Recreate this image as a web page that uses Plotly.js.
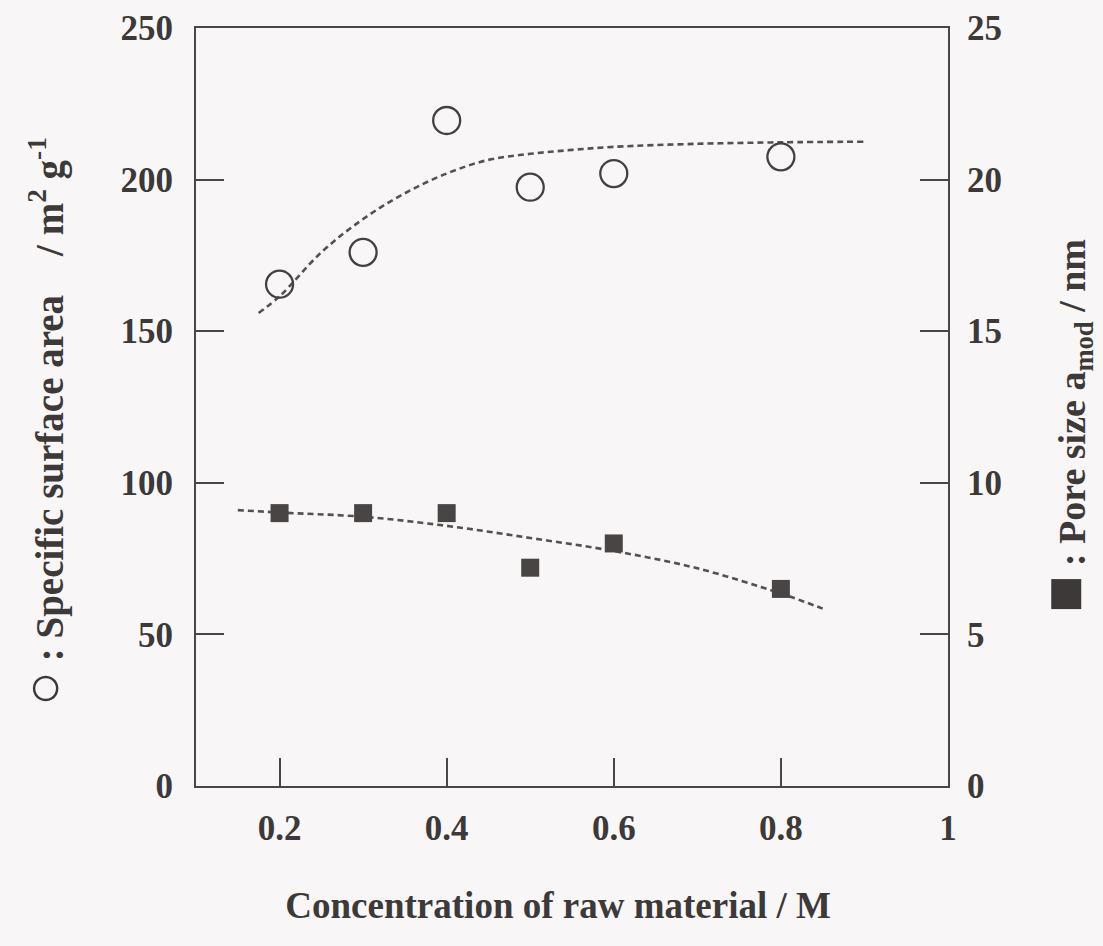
<!DOCTYPE html>
<html>
<head>
<meta charset="utf-8">
<script src="https://cdn.plot.ly/plotly-3.0.1.min.js"></script>
<style>html,body{margin:0;padding:0;background:#f8f6f6;}</style>
</head>
<body>
<div id="chart" style="width:1103px;height:946px;"></div>
<script>
// Measured data
const concentration = [0.2, 0.3, 0.4, 0.5, 0.6, 0.8];
const surfaceArea = [165.5, 176, 219.5, 197.5, 202, 207.5];
const poreSize = [9.0, 9.0, 9.0, 7.2, 8.0, 6.5];

// Dashed trend curves
const fitAreaX = [0.175, 0.2, 0.25, 0.3, 0.35, 0.4, 0.45, 0.5, 0.55, 0.6, 0.7, 0.8, 0.9];
const fitAreaY = [156, 161.5, 176, 187, 195.5, 202, 206.5, 208.5, 209.8, 210.8, 211.8, 212.3, 212.5];
const fitPoreX = [0.15, 0.2, 0.3, 0.4, 0.5, 0.6, 0.7, 0.8, 0.85];
const fitPoreY = [9.1, 9.02, 8.88, 8.58, 8.18, 7.75, 7.18, 6.35, 5.85];

const xTicks = [0.2, 0.4, 0.6, 0.8, 1];
const xTickText = ['0.2', '0.4', '0.6', '0.8', '1'];
const yTicks = [0, 50, 100, 150, 200, 250];
const y2Ticks = [0, 5, 10, 15, 20, 25];

const ink = '#3d3939';
const FONT = '"Liberation Serif", "Times New Roman", serif';
const NB = '&nbsp;';

const traces = [
  {x: fitAreaX, y: fitAreaY, mode: 'lines', line: {color: '#555151', width: 2.6, dash: '6px,4px', shape: 'spline'}, hoverinfo: 'skip', showlegend: false},
  {x: fitPoreX, y: fitPoreY, yaxis: 'y2', mode: 'lines', line: {color: '#555151', width: 2.6, dash: '6px,4px', shape: 'spline'}, hoverinfo: 'skip', showlegend: false},
  {x: concentration, y: surfaceArea, mode: 'markers', name: 'Specific surface area',
   marker: {symbol: 'circle-open', size: 27, color: '#444040', line: {width: 2.3, color: '#444040'}}, showlegend: false},
  {x: concentration, y: poreSize, yaxis: 'y2', mode: 'markers', name: 'Pore size',
   marker: {symbol: 'square', size: 18, color: '#4a4545', line: {width: 0}}, showlegend: false}
];

const layout = {
  width: 1103, height: 946,
  margin: {l: 196, r: 155, t: 28, b: 160},
  paper_bgcolor: '#f8f6f6', plot_bgcolor: '#f8f6f6',
  font: {family: FONT, color: ink, size: 35, weight: 'bold'},
  showlegend: false,
  xaxis: {
    range: [0.1, 1.0], tickvals: xTicks, ticktext: xTickText,
    ticks: 'inside', ticklen: 28, tickwidth: 2, tickcolor: '#4a4646',
    showline: true, linecolor: '#4a4646', linewidth: 2, mirror: true,
    showgrid: false, zeroline: false,
    tickfont: {family: FONT, size: 35, color: ink, weight: 'bold'},
    ticklabelstandoff: 10,
    title: {text: 'Concentration of raw material / M' + NB + NB + NB, font: {family: FONT, size: 37, color: ink, weight: 'bold'}, standoff: 45}
  },
  yaxis: {
    range: [0, 250], tickvals: yTicks,
    ticks: 'inside', ticklen: 28, tickwidth: 2, tickcolor: '#4a4646',
    showline: true, linecolor: '#4a4646', linewidth: 2,
    showgrid: false, zeroline: false,
    tickfont: {family: FONT, size: 35, color: ink, weight: 'bold'},
    ticklabelstandoff: 14,
    title: {text: '<span style="font-weight:normal;font-size:58px">○</span> : Specific surface area' + NB.repeat(4) + '/ m<sup>2</sup> g<sup>-1</sup>' + NB.repeat(3), font: {family: FONT, size: 39, color: ink, weight: 'bold'}, standoff: 45}
  },
  yaxis2: {
    range: [0, 25], tickvals: y2Ticks, overlaying: 'y', side: 'right',
    ticks: 'inside', ticklen: 28, tickwidth: 2, tickcolor: '#4a4646',
    showline: true, linecolor: '#4a4646', linewidth: 2,
    showgrid: false, zeroline: false,
    tickfont: {family: FONT, size: 35, color: ink, weight: 'bold'},
    ticklabelstandoff: 10,
    title: {text: '<span style="font-size:62px">■</span> : Pore size a<sub>mod</sub> / nm' + NB.repeat(4), font: {family: FONT, size: 38, color: ink, weight: 'bold'}, standoff: 57}
  }
};

Plotly.newPlot('chart', traces, layout, {displayModeBar: false, staticPlot: true});
</script>
</body>
</html>
